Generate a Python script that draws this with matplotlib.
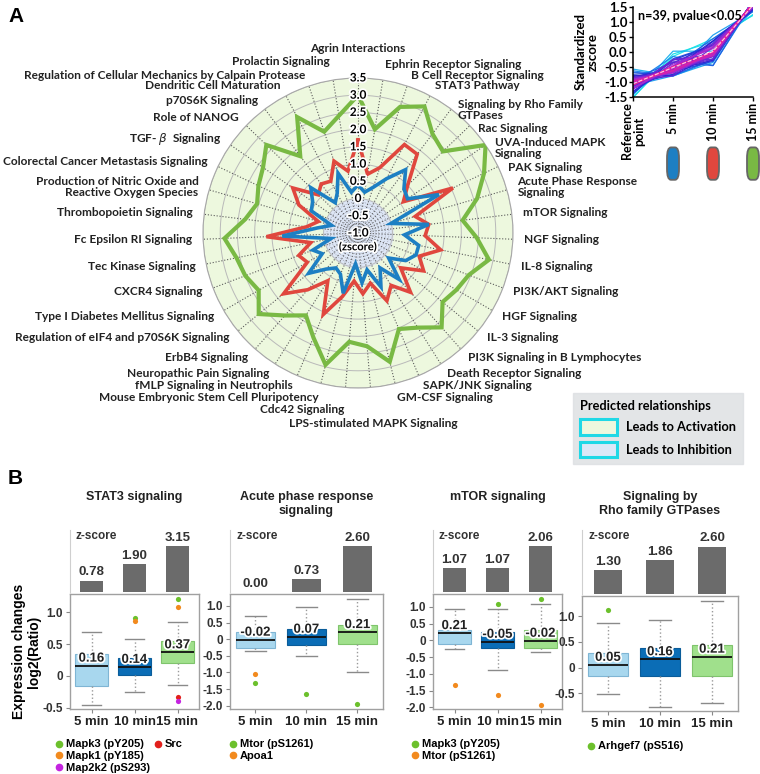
import numpy as np
import matplotlib
matplotlib.use('Agg')
import matplotlib.pyplot as plt
import matplotlib.patheffects as pe
import matplotlib.transforms as mtransforms
from matplotlib.patches import Patch, FancyBboxPatch
from matplotlib.lines import Line2D
from matplotlib.colors import LinearSegmentedColormap

# ---- panel A data: IPA pathway z-scores ----
pathways = [
    'Agrin Interactions', 'Ephrin Receptor Signaling', 'B Cell Receptor Signaling',
    'STAT3 Pathway', 'Signaling by Rho Family\nGTPases', 'Rac Signaling',
    'UVA-Induced MAPK\nSignaling', 'PAK Signaling', 'Acute Phase Response\nSignaling',
    'mTOR Signaling', 'NGF Signaling', 'IL-8 Signaling', 'PI3K/AKT Signaling',
    'HGF Signaling', 'IL-3 Signaling', 'PI3K Signaling in B Lymphocytes',
    'Death Receptor Signaling', 'SAPK/JNK Signaling', 'GM-CSF Signaling',
    'LPS-stimulated MAPK Signaling', 'Cdc42 Signaling',
    'Mouse Embryonic Stem Cell Pluripotency', 'fMLP Signaling in Neutrophils',
    'Neuropathic Pain Signaling', 'ErbB4 Signaling',
    'Regulation of eIF4 and p70S6K Signaling', 'Type I Diabetes Mellitus Signaling',
    'CXCR4 Signaling', 'Tec Kinase Signaling', 'Fc Epsilon RI Signaling',
    'Thrombopoietin Signaling',
    'Production of Nitric Oxide and\nReactive Oxygen Species',
    'Colorectal Cancer Metastasis Signaling', r'TGF- $\beta$  Signaling',
    'Role of NANOG', 'p70S6K Signaling', 'Dendritic Cell Maturation',
    'Regulation of Cellular Mechanics by Calpain Protease', 'Prolactin Signaling']

z_5min = [0.40, 0.20, 0.40, 0.78, 1.30, 0.85, 0.75, 1.60, 0.00, 1.07,
          0.35, 0.80, 0.80, 0.60, 0.15, 0.80, 0.20, 0.70, 0.10, 0.45,
          -0.10, 0.80, 0.30, 0.20, 0.40, 0.85, 0.20, 0.40, -0.20, 1.20,
          0.20, -0.20, 0.50, 0.60, 0.90, 0.10, 0.30, 0.83, 0.20]
z_10min = [1.70, 0.73, 1.00, 1.90, 1.86, 1.00, 0.60, 2.05, 0.73, 1.07,
           0.95, 1.45, 0.90, 1.20, 0.60, 1.30, 0.80, 1.14, 0.50, 0.77,
           0.40, 0.90, 1.57, 0.64, 1.20, 1.79, 0.70, 0.84, 0.40, 1.66,
           0.50, 0.20, 0.90, 1.30, 0.60, 0.78, 0.70, 1.20, 0.82]
z_15min = [3.00, 2.05, 2.86, 3.15, 2.60, 2.42, 3.50, 3.05, 2.60, 2.06,
           2.45, 2.88, 2.44, 2.30, 2.17, 2.66, 2.25, 2.03, 2.85, 2.30,
           2.17, 2.94, 2.30, 1.83, 2.20, 2.72, 2.33, 2.50, 2.60, 2.88,
           2.30, 2.05, 2.20, 2.35, 2.69, 1.79, 2.80, 2.10, 2.45]

inset_ticks = ['Reference\npoint', '5 min', '10 min', '15 min']

# ---- panel B data ----
times = ['5 min', '10 min', '15 min']
stat3_z = [0.78, 1.90, 3.15]
stat3_box = [(-0.45, -0.16, 0.16, 0.34, 0.69), (-0.26, 0.02, 0.14, 0.29, 0.58),
             (-0.14, 0.21, 0.37, 0.55, 0.85)]
stat3_out = [(2, 0.92, 'g'), (2, 0.87, 'o'), (3, 1.21, 'g'), (3, 1.09, 'o'),
             (3, -0.33, 'r'), (3, -0.39, 'm')]
acute_z = [0.00, 0.73, 2.60]
acute_box = [(-0.35, -0.25, -0.02, 0.23, 0.69), (-0.52, -0.17, 0.07, 0.31, 0.97),
             (-0.98, -0.15, 0.21, 0.43, 1.20)]
acute_out = [(1, -1.05, 'o'), (1, -1.33, 'g'), (2, -1.65, 'g'), (3, -1.95, 'g')]
mtor_z = [1.07, 1.07, 2.06]
mtor_box = [(-0.25, -0.12, 0.21, 0.30, 0.92), (-0.90, -0.22, -0.05, 0.25, 0.93),
            (-0.35, -0.24, -0.02, 0.32, 1.09)]
mtor_out = [(1, -1.33, 'o'), (2, 1.09, 'g'), (2, -1.64, 'o'), (3, 1.23, 'g'),
            (3, -1.94, 'o')]
rho_z = [1.30, 1.86, 2.60]
rho_box = [(-0.51, -0.16, 0.05, 0.28, 0.87), (-0.77, -0.16, 0.16, 0.38, 0.93),
           (-0.69, -0.16, 0.21, 0.44, 1.31)]
rho_out = [(1, 1.12, 'g')]

dot_colors = {'g': '#6cc02c', 'o': '#f28a1e', 'r': '#e2201c', 'm': '#c424e0'}

NARROW = ['Lato', 'DejaVu Sans']
ARIAL = ['Liberation Sans', 'DejaVu Sans']

W, H = 760, 774
fig = plt.figure(figsize=(W / 100, H / 100), dpi=100)


def px(left, top, right, bottom):
    return [left / W, 1 - bottom / H, (right - left) / W, (bottom - top) / H]


# ================= Panel A : radar =================
cx, cy, R = 358, 233, 155
ax = fig.add_axes(px(cx - R, cy - R, cx + R, cy + R), projection='polar')
ax.set_theta_zero_location('N')
ax.set_theta_direction(-1)
ax.set_ylim(-1, 3.5)
ax.set_facecolor('#edf8de')
ax.grid(False)
ax.set_xticks([])
ax.set_yticks([])
ax.spines['polar'].set_color('#a8a8a8')
ax.spines['polar'].set_linewidth(0.8)

n = len(pathways)
theta = np.linspace(0, 2 * np.pi, n, endpoint=False)
ring = np.linspace(0, 2 * np.pi, 361)
ax.fill_between(ring, -1, 0, color='#dde6f5', zorder=0.5)
for r in np.arange(-0.9, 0, 0.1):
    ax.plot(ring, np.full_like(ring, r), ls=':', color='#8a8a9a', lw=0.5, zorder=0.6)
for r in np.arange(0, 3.51, 0.5):
    ax.plot(ring, np.full_like(ring, r), color='#b9b9b9', lw=0.7, zorder=0.6)
for t in theta:
    ax.plot([t, t], [-1, 3.5], ls=':', color='#5a5a5a', lw=0.8, zorder=0.7)

closed = np.append(theta, theta[0])
for vals, col, lw in [(z_15min, '#79b944', 3.0), (z_10min, '#e0473e', 2.6),
                      (z_5min, '#1d7fc3', 2.6)]:
    ax.plot(closed, np.append(vals, vals[0]), color=col, lw=lw, zorder=3,
            solid_joinstyle='miter')

stroke = [pe.withStroke(linewidth=2.5, foreground='white')]
for v in np.arange(-1.0, 3.51, 0.5):
    lab = '0' if abs(v) < 1e-9 else f'{v:.1f}'
    ax.text(0, v, lab, ha='center', va='center', fontsize=8.5, weight='bold',
            family=NARROW, path_effects=stroke, zorder=5)
ax.text(np.pi, -0.6, '(zscore)', ha='center', va='center', fontsize=8,
        weight='bold', family=NARROW, path_effects=stroke, zorder=5)

label_r = {1: 3.95, 38: 4.03, 20: 3.98, 19: 4.4}
label_dy = {4: -10, 5: -11, 6: -9, 7: -6}
for i, (t, lab) in enumerate(zip(theta, pathways)):
    s, c = np.sin(t), np.cos(t)
    ha = 'left' if s > 0.05 else ('right' if s < -0.05 else 'center')
    va = 'center'
    rl = 3.82
    if c < -0.95:
        va = 'top'
        rl = 3.75
    if c > 0.99:
        va = 'bottom'
        rl = 4.2
    if i == 19:
        ha = 'center'
    rl = label_r.get(i, rl)
    ax.annotate(lab, xy=(t, rl), xytext=(0, label_dy.get(i, 0)),
                textcoords='offset pixels', ha=ha, va=va,
                multialignment=ha if ha != 'center' else 'center',
                fontsize=8.6, weight='bold', family=NARROW, color='#222222',
                linespacing=1.0, annotation_clip=False)

fig.text(8 / W, 1 - 16 / H, 'A', fontsize=15, weight='bold', family=ARIAL,
         va='center')

# ---- inset: standardized profiles ----
ia = fig.add_axes(px(633, 7, 753, 97))
prof = np.column_stack([np.zeros(n), z_5min, z_10min, z_15min])
stdz = (prof - prof.mean(axis=1, keepdims=True)) / prof.std(axis=1, keepdims=True)
centroid = stdz.mean(axis=0)
dist = np.sqrt(((stdz - centroid) ** 2).sum(axis=1))
memb = 1 - (dist - dist.min()) / (dist.max() - dist.min())
cmap = LinearSegmentedColormap.from_list('mf', ['#19e3e8', '#1b8cf0', '#2020d0',
                                                '#9a2ad8', '#ff1a8c'])
for k in np.argsort(memb):
    ia.plot(range(4), stdz[k], color=cmap(memb[k]), lw=0.9, alpha=0.95)
ia.plot(range(4), centroid, color='#ffd0e0', lw=0.8, ls='--')
ia.set_xlim(0, 3)
ia.set_ylim(-1.5, 1.5)
ia.set_yticks(np.arange(-1.5, 1.51, 0.5))
ia.set_yticklabels([f'{v:.1f}' for v in np.arange(-1.5, 1.51, 0.5)],
                   fontsize=9.5, weight='bold', family=NARROW)
ia.set_xticks(range(4))
ia.set_xticklabels(inset_ticks, rotation=90, fontsize=9, weight='bold',
                   family=NARROW, linespacing=0.95)
ia.tick_params(length=3, width=1, pad=1)
for sp in ['top', 'right']:
    ia.spines[sp].set_visible(False)
for sp in ['left', 'bottom']:
    ia.spines[sp].set_linewidth(1.1)
ia.set_ylabel('Standardized\nzscore', fontsize=9.5, weight='bold', family=NARROW,
              linespacing=1.0)
ia.yaxis.set_label_coords(-0.29, 0.5)
ia.text(0.04, 0.97, 'n=39, pvalue<0.05', transform=ia.transAxes, fontsize=9,
        weight='bold', family=NARROW, va='top')
tr = mtransforms.blended_transform_factory(ia.transData, ia.transAxes)
for xpos, col in zip([1, 2, 3], ['#1d7fc3', '#e0473e', '#79b944']):
    ia.add_patch(FancyBboxPatch((xpos - 0.15, -0.92), 0.3, 0.36,
                                boxstyle='round,pad=0,rounding_size=0.1',
                                mutation_aspect=1.2, transform=tr, clip_on=False,
                                facecolor=col, edgecolor='#666666', lw=1.3))

# ---- legend: predicted relationships ----
handles = [Patch(facecolor='#eef8de', edgecolor='#20d8e6', lw=2.2),
           Patch(facecolor='#dde8f7', edgecolor='#20d8e6', lw=2.2)]
leg = fig.legend(handles, ['Leads to Activation', 'Leads to Inhibition'],
                 title='Predicted relationships', loc='upper left',
                 bbox_to_anchor=(573 / W, 1 - 393 / H), frameon=True,
                 prop={'family': NARROW, 'weight': 'bold', 'size': 9.2},
                 title_fontproperties={'family': NARROW, 'weight': 'bold', 'size': 9.2},
                 handlelength=2.9, handleheight=1.5, labelspacing=0.55,
                 borderpad=0.55, handletextpad=0.7, borderaxespad=0,
                 fancybox=False)
leg.get_frame().set_facecolor('#dcdfe2')
leg.get_frame().set_edgecolor('#dcdfe2')
leg._legend_box.align = 'left'

# ================= Panel B : boxplots =================
fig.text(8 / W, 1 - 478 / H, 'B', fontsize=15, weight='bold', family=ARIAL,
         va='center')

panels = [
    ('STAT3 signaling', stat3_z, stat3_box, stat3_out, (70, 199, 594, 709),
     (-0.52, 1.29), [-0.5, 0, 0.5, 1.0],
     [('g', 'Mapk3 (pY205)'), ('o', 'Mapk1 (pY185)'), ('m', 'Map2k2 (pS293)'),
      ('r', 'Src'), (None, ''), (None, '')], 2, -14),
    ('Acute phase response\nsignaling', acute_z, acute_box, acute_out,
     (230, 383, 594, 709), (-2.1, 1.36), [-2.0, -1.5, -1.0, -0.5, 0, 0.5, 1.0],
     [('g', 'Mtor (pS1261)'), ('o', 'Apoa1')], 1, 0),
    ('mTOR signaling', mtor_z, mtor_box, mtor_out, (433, 562, 594, 709),
     (-2.05, 1.38), [-2.0, -1.5, -1.0, -0.5, 0, 0.5, 1.0],
     [('g', 'Mapk3 (pY205)'), ('o', 'Mtor (pS1261)')], 1, -21),
    ('Signaling by\nRho family GTPases', rho_z, rho_box, rho_out,
     (582, 738, 596, 711), (-0.85, 1.40), [-0.5, 0, 0.5, 1.0],
     [('g', 'Arhgef7 (pS516)')], 1, 6),
]
box_cols = ['#a8d7ee', '#0b6db6', '#a0e08c']
box_edges = ['#7fb5d4', '#0a5c9a', '#7fc46c']

for pi, (title, zs, boxes, outs, (l, r, t, b), ylim, yt, legs, ncol, lx) in enumerate(panels):
    # z-score bars
    bax = fig.add_axes(px(l, 530, r, t - 2))
    bax.bar([1, 2, 3], zs, width=0.55, color='#6b6b6b')
    bax.set_xlim(0.5, 3.5)
    bax.set_ylim(0, max(zs) * 1.35)
    for xpos, v in zip([1, 2, 3], zs):
        bax.text(xpos, v + max(zs) * 0.05, f'{v:.2f}', ha='center', va='bottom',
                 fontsize=9.5, weight='bold', family=ARIAL, color='#333333')
    bax.text(0.04, 1.0, 'z-score', transform=bax.transAxes, ha='left', va='top',
             fontsize=8.5, weight='bold', family=ARIAL, color='#333333')
    for sp in ['top', 'right', 'bottom']:
        bax.spines[sp].set_visible(False)
    bax.spines['left'].set_color('#cfcfcf')
    bax.set_xticks([])
    bax.set_yticks([])
    fig.text((l + r) / 2 / W, 1 - 491 / H, title, ha='center', va='top',
             fontsize=9, weight='bold', family=ARIAL, linespacing=1.2,
             color='#222222')

    # box plot
    ax2 = fig.add_axes(px(l, t, r, b))
    stats = [dict(whislo=w0, q1=q1, med=md, q3=q3, whishi=w1, fliers=[])
             for (w0, q1, md, q3, w1) in boxes]
    bp = ax2.bxp(stats, positions=[1, 2, 3], widths=0.76, patch_artist=True,
                 showfliers=False,
                 medianprops=dict(color='#111111', lw=1.3),
                 whiskerprops=dict(color='#9a9a9a', ls=':', lw=1.0),
                 capprops=dict(color='#8a8a8a', lw=1.0), capwidths=0.42)
    for patch, fc, ec in zip(bp['boxes'], box_cols, box_edges):
        patch.set_facecolor(fc)
        patch.set_edgecolor(ec)
        patch.set_linewidth(0.8)
    for xpos, (w0, q1, md, q3, w1) in zip([1, 2, 3], boxes):
        ax2.text(xpos, md + 0.01 * (ylim[1] - ylim[0]), f'{md:.2f}', ha='center',
                 va='bottom', fontsize=9.5, weight='bold', family=ARIAL,
                 color='#222222', path_effects=stroke, zorder=5)
    for xpos, v, c in outs:
        ax2.scatter(xpos, v, s=14, color=dot_colors[c], zorder=4, lw=0)
    ax2.set_xlim(0.5, 3.5)
    ax2.set_ylim(*ylim)
    ax2.set_yticks(yt)
    ax2.set_yticklabels(['0' if v == 0 else f'{v:.1f}' for v in yt], fontsize=8.5,
                        weight='bold', family=ARIAL, color='#333333')
    ax2.set_xticks([1, 2, 3])
    ax2.set_xticklabels(times, fontsize=9.5, weight='bold', family=ARIAL,
                        color='#222222')
    ax2.tick_params(axis='both', length=3, color='#888888', pad=2)
    for sp in ax2.spines.values():
        sp.set_color('#a0a0a0')
        sp.set_linewidth(1.0)
    if pi == 0:
        ax2.set_ylabel('Expression changes\nlog2(Ratio)', fontsize=10, weight='bold',
                       family=ARIAL, linespacing=1.1)
        ax2.yaxis.set_label_coords(-0.225, 0.5)
    hs = [Line2D([], [], marker='o', ls='', color=dot_colors[c] if c else 'none',
                 markersize=4.5) for c, _ in legs]
    ax2.legend(hs, [lab for _, lab in legs], ncol=ncol, loc='upper left',
               bbox_to_anchor=(lx / (r - l), -0.265), frameon=False, handlelength=0.6,
               handletextpad=0.3, labelspacing=0.15, columnspacing=0.4,
               borderaxespad=0, borderpad=0,
               prop={'family': ARIAL, 'weight': 'bold', 'size': 8})

fig.savefig('out.png', dpi=100)
